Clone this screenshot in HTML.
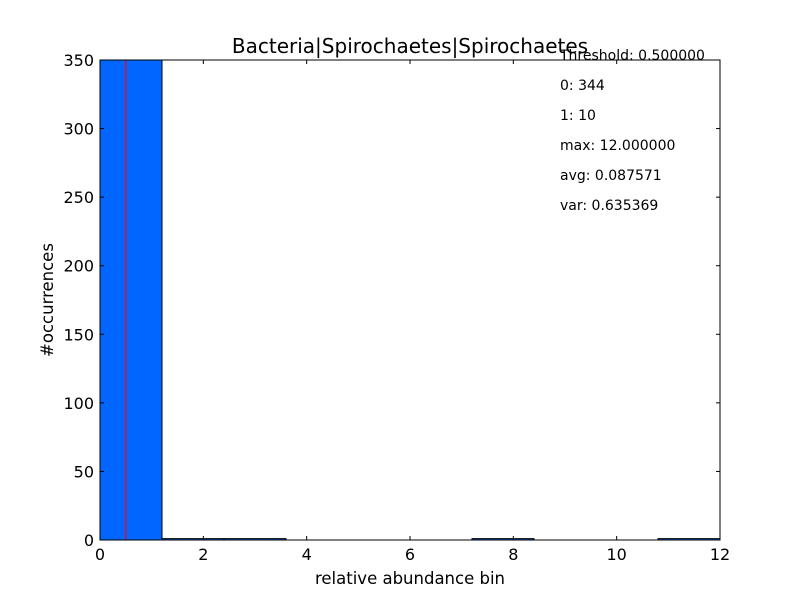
<!DOCTYPE html>
<html><head><meta charset="utf-8"><style>body{margin:0;background:#fff}svg{display:block;font-family:"DejaVu Sans","Liberation Sans",sans-serif}</style></head>
<body>
<svg id="c" width="800" height="600"></svg>
<script>
const binEdges=[0,1.2,2.4,3.6,4.8,6,7.2,8.4,9.6,10.8,12];
const counts=[354,1,1,0,0,0,1,0,0,1];
const xTicks=[0,2,4,6,8,10,12];
const yTicks=[0,50,100,150,200,250,300,350];
const threshold=0.5;
const statsLines=["Threshold: 0.500000","0: 344","1: 10","max: 12.000000","avg: 0.087571","var: 0.635369"];
const L=100,R=720,T=60,B=540;
const sx=v=>L+(v-0)/(12-0)*(R-L);
const sy=v=>B-(v/350)*(B-T);
const svg=document.getElementById('c');
const NS='http://www.w3.org/2000/svg';
function mk(tag,attrs,parent){const e=document.createElementNS(NS,tag);for(const k in attrs)e.setAttribute(k,attrs[k]);(parent||svg).appendChild(e);return e;}
const defs=mk('defs',{});const cp=mk('clipPath',{id:'pc'},defs);mk('rect',{x:L,y:T,width:R-L,height:B-T},cp);
const g=mk('g',{'clip-path':'url(#pc)'});


counts.forEach((c,i)=>{
  const x0=sx(binEdges[i]),x1=sx(binEdges[i+1]),y=sy(c);
  const r=mk('rect',{x:x0,y:y,width:x1-x0,height:B-y,fill:'#0066ff',stroke:'#000','stroke-width':1},g);
  
  
});
const tl=mk('line',{x1:sx(threshold),x2:sx(threshold),y1:T,y2:B,stroke:'#ff0000','stroke-width':1.2},g);


const fr=mk('rect',{x:L,y:T,width:R-L,height:B-T,fill:'none',stroke:'#000','stroke-width':1});


xTicks.forEach(v=>{const x=sx(v);
  mk('line',{x1:x,x2:x,y1:B,y2:B-4,stroke:'#000'});mk('line',{x1:x,x2:x,y1:T,y2:T+4,stroke:'#000'});
  const t=mk('text',{x:x,y:B+20,'text-anchor':'middle','font-size':16});t.textContent=v;
  
  
});
yTicks.forEach(v=>{const y=sy(v);
  mk('line',{x1:L,x2:L+4,y1:y,y2:y,stroke:'#000'});mk('line',{x1:R,x2:R-4,y1:y,y2:y,stroke:'#000'});
  const t=mk('text',{x:L-6,y:y+6,'text-anchor':'end','font-size':16});t.textContent=v;
  
  
});
const ti=mk('text',{x:410,y:53,'text-anchor':'middle','font-size':20});ti.textContent='Bacteria|Spirochaetes|Spirochaetes';


const xl=mk('text',{x:410,y:584,'text-anchor':'middle','font-size':16.5});xl.textContent='relative abundance bin';


const yl=mk('text',{x:0,y:0,'text-anchor':'middle','font-size':16.5,transform:'translate(53,300) rotate(-90)'});yl.textContent='#occurrences';


statsLines.forEach((s,i)=>{const t=mk('text',{x:560,y:60+i*30,'font-size':14});t.textContent=s;
  
  
});
</script>
</body></html>
